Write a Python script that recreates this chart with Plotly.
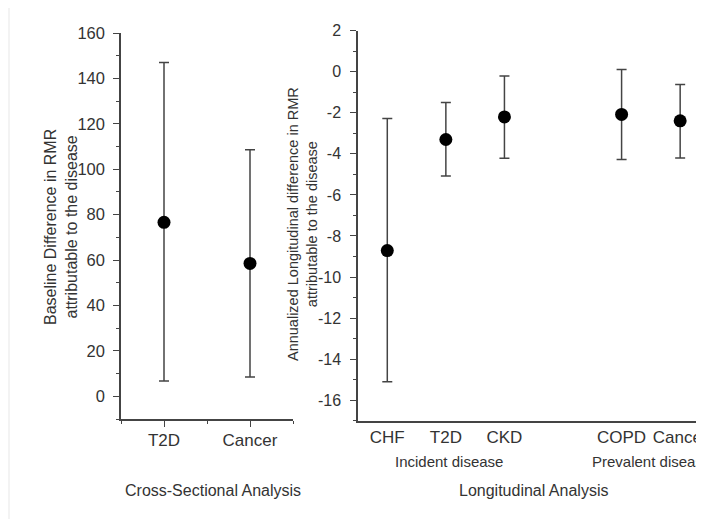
import plotly.graph_objects as go

W, H = 704, 519
OFF = 8  # page body margin in the browser

# ---- data ----
cs_categories = ["T2D", "Cancer"]
cs_positions = [1, 2]
cs_estimate = [76.6, 58.5]
cs_lower = [6.7, 8.5]
cs_upper = [147.0, 108.6]

lg_categories = ["CHF", "T2D", "CKD", "COPD", "Cancer"]
lg_positions = [1, 2, 3, 5, 6]
lg_estimate = [-8.71, -3.30, -2.20, -2.08, -2.39]
lg_lower = [-15.1, -5.08, -4.22, -4.28, -4.20]
lg_upper = [-2.28, -1.50, -0.21, 0.11, -0.62]

cs_yticks = [0, 20, 40, 60, 80, 100, 120, 140, 160]
lg_yticks = [2, 0, -2, -4, -6, -8, -10, -12, -14, -16]

FONT = "Liberation Sans, Arial, sans-serif"
TXT = "#333333"
LINE = "#444444"


def px_x(p):
    return (p - OFF) / W


def px_y(p):
    return 1 - (p - OFF) / H


# right panel: x=1 at 387.7 px, 58.5 px per unit, axis line starts at 358 px
right_px_end = W + OFF
right_range = [0.5, 1 + (right_px_end - 387.7) / 58.5]

fig = go.Figure()

fig.add_trace(go.Scatter(
    x=cs_positions, y=cs_estimate, mode="markers",
    marker=dict(color="black", size=13),
    error_y=dict(type="data", symmetric=False,
                 array=[u - e for u, e in zip(cs_upper, cs_estimate)],
                 arrayminus=[e - l for e, l in zip(cs_estimate, cs_lower)],
                 color=LINE, thickness=1.5, width=5),
    xaxis="x", yaxis="y", showlegend=False, hoverinfo="skip"))

fig.add_trace(go.Scatter(
    x=lg_positions, y=lg_estimate, mode="markers",
    marker=dict(color="black", size=13),
    error_y=dict(type="data", symmetric=False,
                 array=[u - e for u, e in zip(lg_upper, lg_estimate)],
                 arrayminus=[e - l for e, l in zip(lg_estimate, lg_lower)],
                 color=LINE, thickness=1.5, width=5),
    xaxis="x2", yaxis="y2", showlegend=False, hoverinfo="skip"))

axis_common = dict(showgrid=False, zeroline=False, showline=True,
                   linecolor=LINE, linewidth=1.5, tickcolor=LINE,
                   tickwidth=1.2, automargin=False)

fig.update_layout(
    width=W, height=H,
    margin=dict(l=0, r=0, t=0, b=0, pad=0, autoexpand=False),
    paper_bgcolor="white", plot_bgcolor="white",
    font=dict(family=FONT, color=TXT),
    xaxis=dict(**axis_common, domain=[px_x(121), px_x(293)], range=[0.5, 2.5],
               anchor="y", tickmode="array", tickvals=cs_positions,
               ticktext=cs_categories, ticks="outside", ticklen=6,
               tickfont=dict(size=17, color=TXT), ticklabelstandoff=-1,
               minor=dict(tickmode="array", tickvals=[0.5, 1.5, 2.5],
                          ticks="outside", ticklen=3, tickcolor=LINE)),
    yaxis=dict(**axis_common, domain=[px_y(419), px_y(33)], range=[-10, 160],
               anchor="x", tickmode="array", tickvals=cs_yticks,
               ticktext=[str(v) for v in cs_yticks],
               ticks="outside", ticklen=6,
               tickfont=dict(size=16.5, color=TXT), ticklabelstandoff=5,
               minor=dict(tickmode="linear", tick0=0, dtick=10,
                          ticks="outside", ticklen=3, tickcolor=LINE)),
    xaxis2=dict(**axis_common, domain=[px_x(358), 1.0], range=right_range,
                anchor="y2", tickmode="array", tickvals=lg_positions,
                ticktext=lg_categories, ticks="",
                tickfont=dict(size=17, color=TXT), ticklabelstandoff=0),
    yaxis2=dict(**axis_common, domain=[px_y(420.7), px_y(30.7)], range=[-17, 2],
                anchor="x2", tickmode="array", tickvals=lg_yticks,
                ticktext=[str(v) for v in lg_yticks],
                ticks="outside", ticklen=6,
                tickfont=dict(size=16, color=TXT), ticklabelstandoff=6,
                minor=dict(tickmode="linear", tick0=0, dtick=1,
                           ticks="outside", ticklen=3, tickcolor=LINE)),
    shapes=[dict(type="rect", xref="paper", yref="paper",
                 x0=px_x(0), x1=px_x(10), y0=px_y(530), y1=px_y(7),
                 fillcolor="#f3f3f3", line=dict(width=0), layer="below")],
)

annotations = [
    dict(text="Baseline Difference in RMR<br>attributable to the disease",
         x=px_x(61), y=px_y(227), textangle=-90, font=dict(size=16, color=TXT)),
    dict(text="Annualized Longitudinal difference in RMR<br>attributable to the disease",
         x=px_x(302.5), y=px_y(224.5), textangle=-90, font=dict(size=14.5, color=TXT)),
    dict(text="Cross-Sectional Analysis", x=px_x(213), y=px_y(490),
         font=dict(size=16, color=TXT)),
    dict(text="Longitudinal Analysis", x=px_x(533), y=px_y(490),
         font=dict(size=16, color=TXT)),
    dict(text="Incident disease", x=px_x(449.5), y=px_y(461),
         font=dict(size=15, color=TXT)),
    dict(text="Prevalent disease", x=px_x(651), y=px_y(461),
         font=dict(size=15, color=TXT)),
]
for a in annotations:
    a.update(xref="paper", yref="paper", showarrow=False,
             xanchor="center", yanchor="middle")
    fig.add_annotation(**a)

fig.write_html("out.html")
